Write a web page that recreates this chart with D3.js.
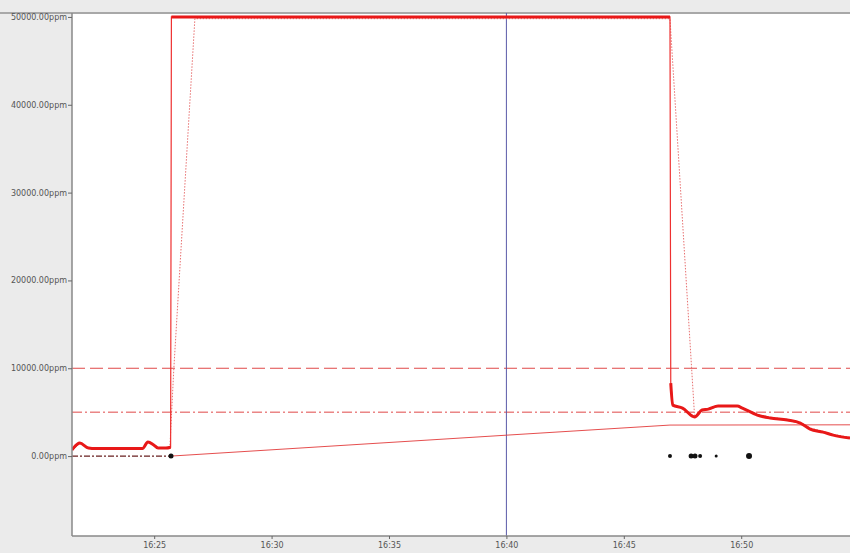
<!DOCTYPE html>
<html>
<head>
<meta charset="utf-8">
<script src="https://cdn.jsdelivr.net/npm/d3@7"></script>
<style>
  body { margin: 0; background: #ebebeb; }
  svg { display: block; }
</style>
</head>
<body>
<div id="chart"></div>
<script>
// gas reading (ppm) sampled over time
let readingTimes = ['16:21:30','16:21:50','16:22:12','16:22:30','16:23:30','16:24:30','16:24:44','16:24:58','16:25:10','16:25:30','16:25:42','16:25:44','16:46:58','16:47:00','16:47:05','16:47:30','16:48:01','16:48:20','16:48:36','16:49:01','16:49:50','16:50:03','16:50:41','16:51:14','16:51:58','16:52:31','16:52:56','16:53:29','16:53:55','16:54:38'];
let readingValues = [700, 1480, 910, 850, 850, 850, 1600, 1300, 910, 910, 1000, 50000, 50000, 8300, 5800, 5470, 4450, 5240, 5350, 5690, 5690, 5460, 4670, 4330, 4100, 3760, 3070, 2730, 2390, 2050];

// slower (averaged) response, dotted
let slowTimes = ['16:25:40','16:25:50','16:26:44','16:46:58','16:48:01','16:48:20','16:48:36','16:49:01','16:49:50','16:50:03','16:50:41','16:51:14','16:51:58','16:52:31','16:52:56','16:53:29','16:53:55','16:54:38'];
let slowValues = [900, 9800, 49800, 49800, 4450, 5300, 5420, 5720, 5720, 5520, 4750, 4420, 4180, 3850, 3200, 2820, 2470, 2120];

// time weighted average, thin line
let twaTimes = ['16:25:43','16:40:00','16:46:58','16:54:38'];
let twaValues = [0, 2380, 3530, 3560];

// baseline before logging started
let baseTimes = ['16:21:30','16:25:43'];
let baseValues = [0, 0];

// event markers on the zero line
let eventTimes = ['16:25:43','16:46:58','16:47:52','16:48:02','16:48:15','16:48:56','16:50:20'];
let eventSizes = [2.5, 2, 2.5, 2.5, 2, 1.5, 3];

let alarmHigh = 10000;
let alarmLow = 5000;
let cursorTime = '16:40:00';

let yTicks = [0, 10000, 20000, 30000, 40000, 50000];
let xTickLabels = ['16:25','16:30','16:35','16:40','16:45','16:50'];

let width = 850;
let height = 553;
let plotLeft = 72, plotTop = 13, plotRight = 850, plotBottom = 536;

let parseT = d3.timeParse('%H:%M:%S');

let x = d3.scaleTime()
  .domain([parseT('16:21:30'), parseT('16:54:38')])
  .range([plotLeft, plotRight]);

let y = d3.scaleLinear()
  .domain([-9100, 50450])
  .range([plotBottom, plotTop]);

let svg = d3.select('#chart')
  .append('svg')
  .attr('width', width)
  .attr('height', height)
  .style('background-color', '#ebebeb');

svg.append('rect')
  .attr('x', plotLeft)
  .attr('y', plotTop)
  .attr('width', plotRight - plotLeft)
  .attr('height', plotBottom - plotTop)
  .style('fill', '#ffffff');

// top border
svg.append('line')
  .attr('x1', 0).attr('x2', width)
  .attr('y1', plotTop).attr('y2', plotTop)
  .style('stroke', '#a8a8a8')
  .style('stroke-width', 2);

svg.append('clipPath').attr('id', 'plot')
  .append('rect')
  .attr('x', plotLeft).attr('y', plotTop)
  .attr('width', plotRight - plotLeft).attr('height', plotBottom - plotTop);

let plot = svg.append('g').attr('clip-path', 'url(#plot)');

let toPoints = (times, values) => times.map((t, i) => ({ t: parseT(t), v: values[i] }));

let line = d3.line()
  .x(d => x(d.t))
  .y(d => y(d.v));

let smooth = d3.line()
  .curve(d3.curveMonotoneX)
  .x(d => x(d.t))
  .y(d => y(d.v));

// alarm levels
plot.append('line')
  .attr('x1', plotLeft).attr('x2', plotRight)
  .attr('y1', y(alarmHigh)).attr('y2', y(alarmHigh))
  .style('stroke', '#e04848')
  .style('stroke-width', 1)
  .style('stroke-dasharray', '13,5');

plot.append('line')
  .attr('x1', plotLeft).attr('x2', plotRight)
  .attr('y1', y(alarmLow)).attr('y2', y(alarmLow))
  .style('stroke', '#e04848')
  .style('stroke-width', 1)
  .style('stroke-dasharray', '10,3,2,3');

// cursor line
plot.append('line')
  .attr('x1', x(parseT(cursorTime))).attr('x2', x(parseT(cursorTime)))
  .attr('y1', plotTop).attr('y2', plotBottom)
  .style('stroke', '#5a5aa8')
  .style('stroke-width', 1);

// baseline dash-dot
plot.append('path')
  .attr('d', line(toPoints(baseTimes, baseValues)))
  .style('fill', 'none')
  .style('stroke', '#6a2020')
  .style('stroke-width', 1.3)
  .style('stroke-dasharray', '6,2,2,2');

// twa
plot.append('path')
  .attr('d', line(toPoints(twaTimes, twaValues)))
  .style('fill', 'none')
  .style('stroke', '#e23a3a')
  .style('stroke-width', 0.9);

// dotted slow response
plot.append('path')
  .attr('d', line(toPoints(slowTimes, slowValues)))
  .style('fill', 'none')
  .style('stroke', '#e87070')
  .style('stroke-width', 1)
  .style('stroke-dasharray', '1.5,1.5');

// reading: thin line for everything, thick for the steady parts
let reading = toPoints(readingTimes, readingValues);

plot.append('path')
  .attr('d', line(reading))
  .style('fill', 'none')
  .style('stroke', '#ee3030')
  .style('stroke-width', 1.2);

let segments = [[]];
reading.forEach((d, i) => {
  if (i > 0 && Math.abs(d.v - reading[i - 1].v) > 20000) segments.push([]);
  segments[segments.length - 1].push(d);
});

plot.selectAll('path.thick')
  .data(segments)
  .enter()
  .append('path')
  .attr('class', 'thick')
  .attr('d', d => smooth(d))
  .style('fill', 'none')
  .style('stroke', '#e81818')
  .style('stroke-width', 3)
  .style('stroke-linejoin', 'round');

// events
plot.selectAll('circle')
  .data(eventTimes)
  .enter()
  .append('circle')
  .attr('cx', d => x(parseT(d)))
  .attr('cy', y(0))
  .attr('r', (d, i) => eventSizes[i])
  .style('fill', '#111');

// axes
let yAxis = d3.axisLeft(y)
  .tickValues(yTicks)
  .tickSize(4)
  .tickFormat(d => d3.format('.2f')(d) + 'ppm');

let xAxis = d3.axisBottom(x)
  .tickValues(xTickLabels.map(l => parseT(l + ':00')))
  .tickSize(3)
  .tickFormat(d3.timeFormat('%H:%M'));

let gy = svg.append('g')
  .attr('transform', 'translate(' + plotLeft + ',0)')
  .call(yAxis);

let gx = svg.append('g')
  .attr('transform', 'translate(0,' + plotBottom + ')')
  .call(xAxis);

[gy, gx].forEach(g => {
  g.select('.domain').style('stroke', '#888').style('stroke-width', 1.5);
  g.selectAll('.tick line').style('stroke', '#666');
  g.selectAll('.tick text')
    .style('font-family', 'DejaVu Sans, sans-serif')
    .style('font-size', '8px')
    .style('fill', '#555');
});

gy.select('.domain').attr('d', 'M0,' + plotTop + 'V' + plotBottom);
gx.select('.domain').attr('d', 'M' + plotLeft + ',0H' + plotRight);
gy.selectAll('.tick text').attr('x', -5);
gx.selectAll('.tick text').attr('y', 6);
</script>
</body>
</html>
